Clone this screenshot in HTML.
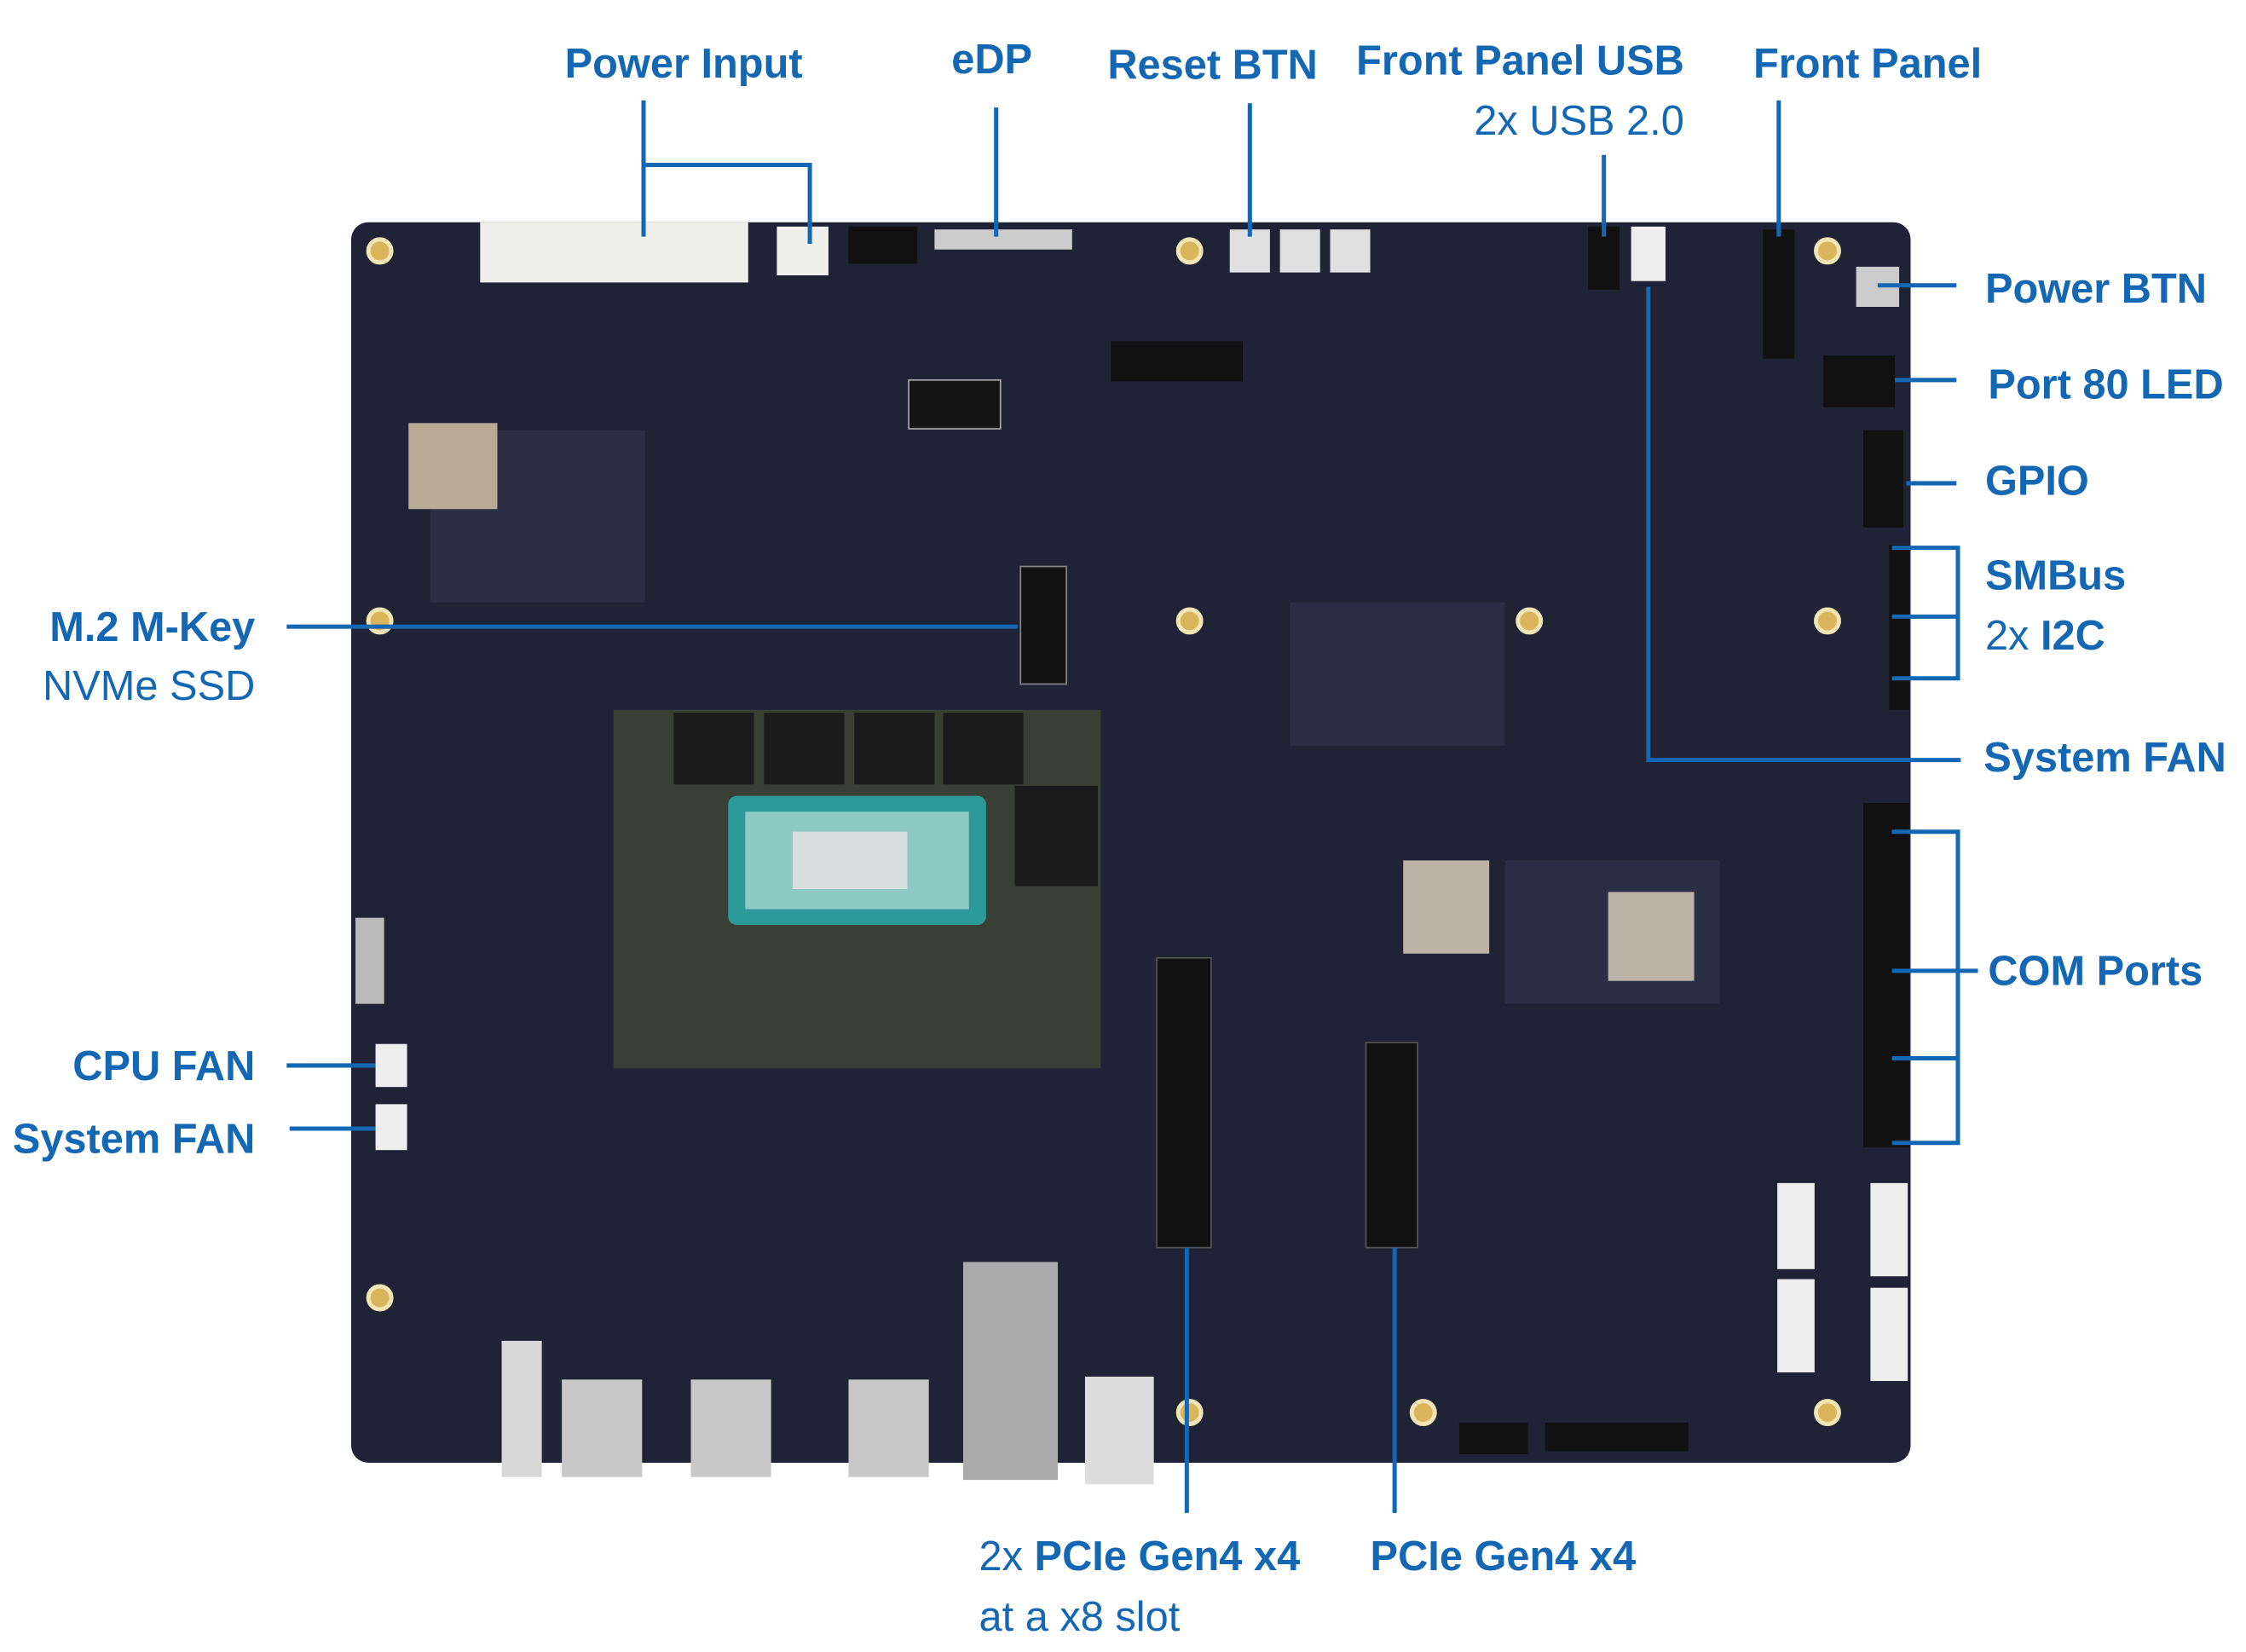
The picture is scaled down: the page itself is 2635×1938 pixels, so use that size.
<!DOCTYPE html>
<html><head><meta charset="utf-8"><style>
html,body{margin:0;padding:0;background:#fff;width:2635px;height:1938px;overflow:hidden}
svg{display:block}
text{font-family:"Liberation Sans",sans-serif;fill:#1467b3}
.b{font-weight:bold}
</style></head><body>
<svg width="2635" height="1938" viewBox="0 0 1567 1152" preserveAspectRatio="none" xmlns="http://www.w3.org/2000/svg">
<rect x="245" y="155" width="1088" height="865" rx="12" fill="#1f2335"/>
<g fill="#2a2f45">
<rect x="300" y="300" width="150" height="120"/><rect x="900" y="420" width="150" height="100"/><rect x="1050" y="600" width="150" height="100"/>
</g>
<g fill="#d9b45a" stroke="#f1e5b5" stroke-width="3">
<circle cx="265" cy="175" r="8"/><circle cx="830" cy="175" r="8"/><circle cx="1275" cy="175" r="8"/>
<circle cx="265" cy="433" r="8"/><circle cx="830" cy="433" r="8"/><circle cx="1067" cy="433" r="8"/><circle cx="1275" cy="433" r="8"/>
<circle cx="265" cy="905" r="8"/><circle cx="830" cy="985" r="8"/><circle cx="993" cy="985" r="8"/><circle cx="1275" cy="985" r="8"/>
</g>
<rect x="335" y="155" width="187" height="42" fill="#eeeeea"/>
<rect x="542" y="158" width="36" height="34" fill="#eeeeea"/>
<rect x="592" y="158" width="48" height="26" fill="#111"/>
<rect x="652" y="160" width="96" height="14" fill="#ccc"/>
<rect x="634" y="265" width="64" height="34" fill="#151515" stroke="#aaa"/>
<rect x="1108" y="158" width="22" height="44" fill="#111"/>
<rect x="1138" y="158" width="24" height="38" fill="#eee"/>
<rect x="1230" y="160" width="22" height="90" fill="#111"/>
<rect x="1295" y="186" width="30" height="28" fill="#ccc"/>
<rect x="1272" y="248" width="50" height="36" fill="#111"/>
<rect x="1300" y="300" width="28" height="68" fill="#111"/>
<rect x="1318" y="380" width="14" height="115" fill="#111"/>
<rect x="1300" y="560" width="32" height="240" fill="#111"/>
<g fill="#e0e0e0"><rect x="858" y="160" width="28" height="30"/><rect x="893" y="160" width="28" height="30"/><rect x="928" y="160" width="28" height="30"/></g>
<rect x="775" y="238" width="92" height="28" fill="#111"/>
<rect x="285" y="295" width="62" height="60" fill="#b9aa95"/>
<rect x="712" y="395" width="32" height="82" fill="#111" stroke="#888"/>
<rect x="428" y="495" width="340" height="250" fill="#3a3f36"/>
<g fill="#1b1b1b"><rect x="470" y="497" width="56" height="50"/><rect x="533" y="497" width="56" height="50"/><rect x="596" y="497" width="56" height="50"/><rect x="658" y="497" width="56" height="50"/><rect x="708" y="548" width="58" height="70"/></g>
<rect x="508" y="555" width="180" height="90" rx="6" fill="#2d9a9a"/>
<rect x="520" y="566" width="156" height="68" fill="#8ec9c4"/>
<rect x="553" y="580" width="80" height="40" fill="#d8dde0"/>
<rect x="807" y="668" width="38" height="202" fill="#111" stroke="#555"/>
<rect x="953" y="727" width="36" height="143" fill="#111" stroke="#555"/>
<rect x="262" y="728" width="22" height="30" fill="#eee"/><rect x="262" y="770" width="22" height="32" fill="#eee"/>
<rect x="248" y="640" width="20" height="60" fill="#bbb"/>
<rect x="350" y="935" width="28" height="95" fill="#d8d8d8"/>
<rect x="392" y="962" width="56" height="68" fill="#c8c8c8"/>
<rect x="482" y="962" width="56" height="68" fill="#c8c8c8"/>
<rect x="592" y="962" width="56" height="68" fill="#c8c8c8"/>
<rect x="672" y="880" width="66" height="152" fill="#aaa"/>
<rect x="757" y="960" width="48" height="75" fill="#ddd"/>
<rect x="1018" y="992" width="48" height="22" fill="#111"/>
<rect x="1078" y="992" width="100" height="20" fill="#111"/>
<g fill="#eee"><rect x="1240" y="825" width="26" height="60"/><rect x="1305" y="825" width="26" height="65"/><rect x="1240" y="892" width="26" height="65"/><rect x="1305" y="898" width="26" height="65"/></g>
<rect x="979" y="600" width="60" height="65" fill="#bcb3a6"/><rect x="1122" y="622" width="60" height="62" fill="#bcb3a6"/>
<g stroke="#1467b3" stroke-width="3" fill="none">
<path d="M449 70V165M449 115H565V170"/>
<path d="M695 75V165"/><path d="M872 72V165"/><path d="M1119 108V165"/><path d="M1241 70V165"/>
<path d="M1310 199H1365"/><path d="M1322 265H1365"/><path d="M1330 337H1365"/>
<path d="M1320 382H1366V473H1320M1320 430H1366"/>
<path d="M1150 200V530H1368"/>
<path d="M1320 580H1366V797H1320M1320 677H1380M1320 738H1366"/>
<path d="M200 437H710"/><path d="M200 743H262"/><path d="M202 787H262"/>
<path d="M828 870V1055"/><path d="M973 870V1055"/>
</g>
<g font-size="29">
<text class="b" x="477" y="54" text-anchor="middle">Power Input</text>
<text class="b" x="692" y="51" text-anchor="middle">eDP</text>
<text class="b" x="846" y="55" text-anchor="middle">Reset BTN</text>
<text class="b" x="1175" y="52" text-anchor="end">Front Panel USB</text>
<text x="1175" y="94" text-anchor="end">2x USB 2.0</text>
<text class="b" x="1303" y="54" text-anchor="middle">Front Panel</text>
<text class="b" x="1385" y="211">Power BTN</text>
<text class="b" x="1387" y="278">Port 80 LED</text>
<text class="b" x="1385" y="345">GPIO</text>
<text class="b" x="1385" y="411">SMBus</text>
<text x="1385" y="453">2x <tspan font-weight="bold">I2C</tspan></text>
<text class="b" x="1384" y="538">System FAN</text>
<text class="b" x="1387" y="687">COM Ports</text>
<text class="b" x="178" y="447" text-anchor="end">M.2 M-Key</text>
<text x="178" y="488" text-anchor="end">NVMe SSD</text>
<text class="b" x="178" y="753" text-anchor="end">CPU FAN</text>
<text class="b" x="178" y="804" text-anchor="end">System FAN</text>
<text x="683" y="1095">2x <tspan font-weight="bold">PCIe Gen4 x4</tspan></text>
<text x="683" y="1137">at a x8 slot</text>
<text class="b" x="956" y="1095">PCIe Gen4 x4</text>
</g>
</svg>
</body></html>
